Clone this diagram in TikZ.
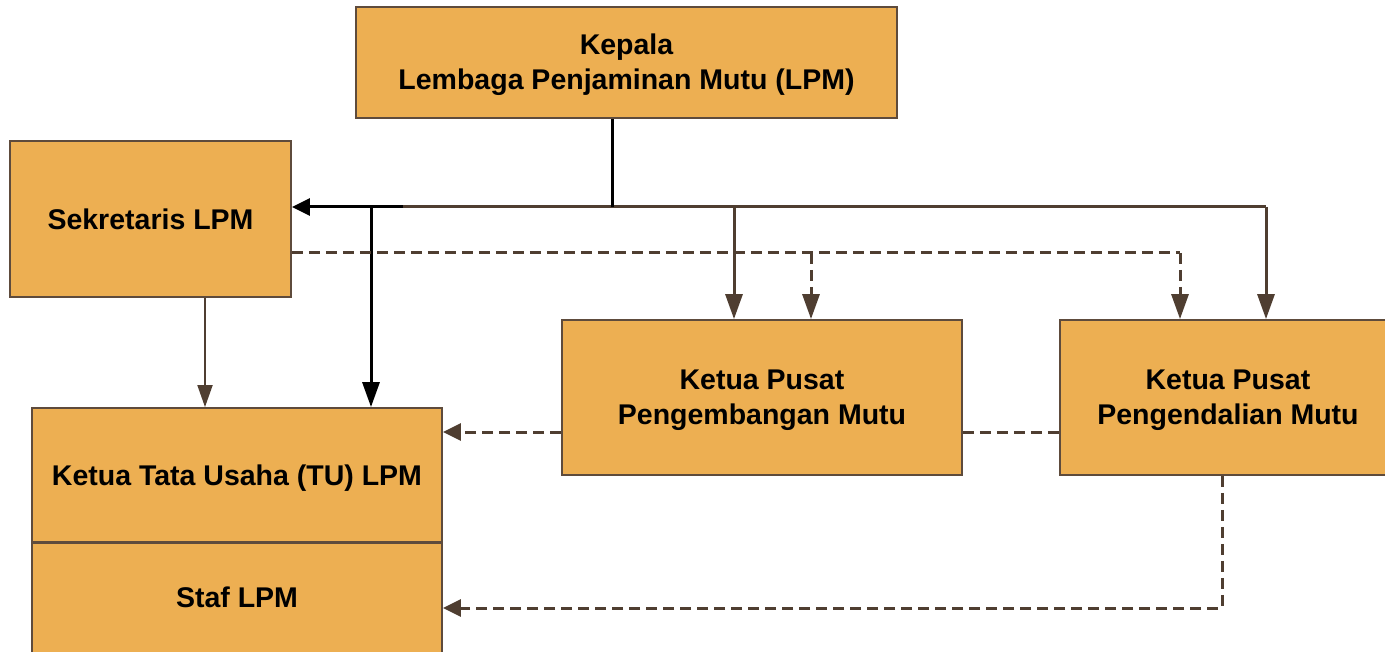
\documentclass[tikz,border=0pt]{standalone}
\usepackage{fontspec}
\setmainfont{Liberation Sans}
\usetikzlibrary{arrows.meta}
\definecolor{boxfill}{HTML}{EDAF52}
\definecolor{boxline}{HTML}{5E4B3C}
\definecolor{conn}{HTML}{4F3E31}
\newcommand{\lowtext}[1]{\raisebox{-3pt}[\height][\depth]{\begin{tabular}{@{}c@{}}#1\end{tabular}}}
\tikzset{
  orgbox/.style={draw=boxline, line width=1.8pt, fill=boxfill, inner sep=0pt, align=center,
    font=\fontsize{28.5}{35}\selectfont\bfseries},
  blk/.style={draw=black, line width=3pt},
  brn/.style={draw=conn, line width=3pt},
  thin/.style={draw=conn, line width=1.8pt},
  dsh/.style={draw=conn, line width=3pt, dash pattern=on 11pt off 6pt},
  tipv/.style={-{Triangle[length=25pt,width=17pt]}},
  tiph/.style={-{Triangle[length=18pt,width=17pt]}},
}
\begin{document}
\begin{tikzpicture}[x=1pt,y=-1pt]
\useasboundingbox (0,0) rectangle (1385,652);
\begin{scope}
\clip (0,0) rectangle (1385,652);
\node[orgbox, minimum width=541pt, minimum height=111pt] (kep) at (626.5,62.5) {\lowtext{Kepala\\Lembaga Penjaminan Mutu (LPM)}};
\node[orgbox, minimum width=281pt, minimum height=156pt] (sek) at (150.5,219) {Sekretaris LPM};
\node[orgbox, minimum width=410pt, minimum height=134pt] (tu) at (237,475) {\lowtext{Ketua Tata Usaha (TU) LPM}};
\node[orgbox, minimum width=410pt, minimum height=118pt, anchor=north] (staf) at (237,542) {};
\node[font=\fontsize{28.5}{35}\selectfont\bfseries] (staft) at (237,597) {Staf LPM};
\node[orgbox, minimum width=400pt, minimum height=155pt] (kemb) at (762,397.5) {\lowtext{Ketua Pusat\\Pengembangan Mutu}};
\node[orgbox, minimum width=336pt, minimum height=155pt] (kend) at (1228,397.5) {\lowtext{Ketua Pusat\\Pengendalian Mutu}};
\end{scope}
% coordinates
\coordinate (j) at (612,207);
\coordinate (jb) at (403,207);
\coordinate (jt) at (371,207);
\coordinate (jr) at (1266,207);
\coordinate (jm) at (734,207);
\coordinate (ds) at (291,253);
\coordinate (dr) at (1180,253);
\coordinate (dm) at (811,253);
\coordinate (dl) at (1222,608);
% solid lines
\draw[brn] (jb) -- (jr);
\draw[brn,tipv] (jr) -- (kend.north -| jr);
\draw[brn,tipv] (jm) -- (kemb.north -| jm);
\draw[blk] (kep.south -| j) -- (j);
\draw[blk,tiph] (jb) -- (sek.east |- jb);
\draw[blk,tipv] (jt) -- (tu.north -| jt);
\draw[thin,-{Triangle[length=22pt,width=15pt]}] (sek.south -| 205,0) -- (tu.north -| 205,0);
% dashed lines
\draw[dsh] (sek.east |- ds) -- (dr);
\draw[dsh,tipv] (dr) -- (kend.north -| dr);
\draw[dsh,tipv] (dm) -- (kemb.north -| dm);
\draw[dsh,tiph] (kemb.west |- 0,432) -- (tu.east |- 0,432);
\draw[dsh] (kemb.east |- 0,432) -- (kend.west |- 0,432);
\draw[dsh,tiph] (kend.south -| dl) -- (dl) -- (staf.east |- dl);
\end{tikzpicture}
\end{document}
